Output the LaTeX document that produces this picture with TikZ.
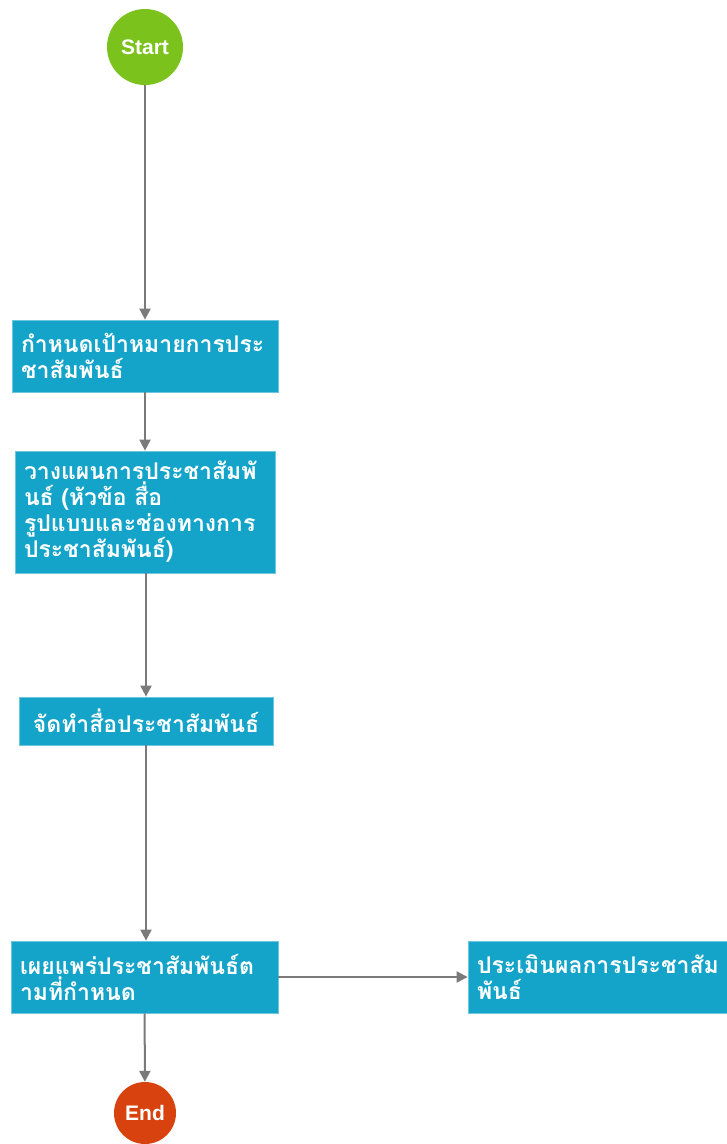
\documentclass[tikz,border=0pt]{standalone}
\usepackage{fontspec}
\usetikzlibrary{arrows.meta}
\newfontfamily\thaifont[Script=Thai]{Loma}
\setmainfont{Liberation Sans}
\definecolor{boxfill}{HTML}{14A3C9}
\definecolor{boxline}{HTML}{6CC6DE}
\definecolor{startgreen}{HTML}{7CC21C}
\definecolor{endred}{HTML}{D8420E}
\definecolor{conn}{HTML}{7A7A7A}
\begin{document}
\begin{tikzpicture}[x=1pt,y=-1pt,
  procbox/.style={draw=boxline,line width=0.8pt,fill=boxfill,text=white,
    font=\thaifont\bfseries\fontsize{23}{26}\selectfont,align=left,
    inner xsep=9pt,inner ysep=0pt,anchor=center},
  termnode/.style={circle,text=white,font=\bfseries\fontsize{21}{22}\selectfont,inner sep=0pt},
  conn/.style={draw=conn,line width=2pt,-{Triangle[length=11pt,width=11pt]}}]
\useasboundingbox (0,0) rectangle (727,1144);
\fill[white] (0,0) rectangle (727,1144);
\node[termnode,fill=startgreen,minimum size=76pt] (start) at (145,47) {Start};
\node[procbox,minimum width=266pt,minimum height=72pt,text width=248pt] (b1) at (145,356)
  {กำหนดเป้าหมายการประ\\ชาสัมพันธ์};
\node[procbox,minimum width=260pt,minimum height=122pt,text width=242pt] (b2) at (145,512)
  {วางแผนการประชาสัมพั\\นธ์ (หัวข้อ สื่อ\\รูปแบบและช่องทางการ\\ประชาสัมพันธ์)};
\node[procbox,minimum width=254pt,minimum height=48pt,text width=236pt,align=center] (b3) at (146,721)
  {จัดทำสื่อประชาสัมพันธ์};
\node[procbox,minimum width=267pt,minimum height=72pt,text width=249pt] (b4) at (144.5,977)
  {เผยแพร่ประชาสัมพันธ์ต\\ามที่กำหนด};
\node[procbox,minimum width=259pt,minimum height=72pt,text width=241pt] (b5) at (597.5,977)
  {ประเมินผลการประชาสัม\\พันธ์};
\node[termnode,fill=endred,minimum size=62pt] (end) at (145,1113) {End};
\draw[conn] (start) -- (b1);
\draw[conn] (b1) -- (b2);
\draw[conn] (b2.south -| 146,0) -- (b3.north -| 146,0);
\draw[conn] (b3.south -| 146,0) -- (b4.north -| 146,0);
\draw[conn] (b4) -- (b5);
\draw[conn] (b4) -- (end);
\end{tikzpicture}
\end{document}
